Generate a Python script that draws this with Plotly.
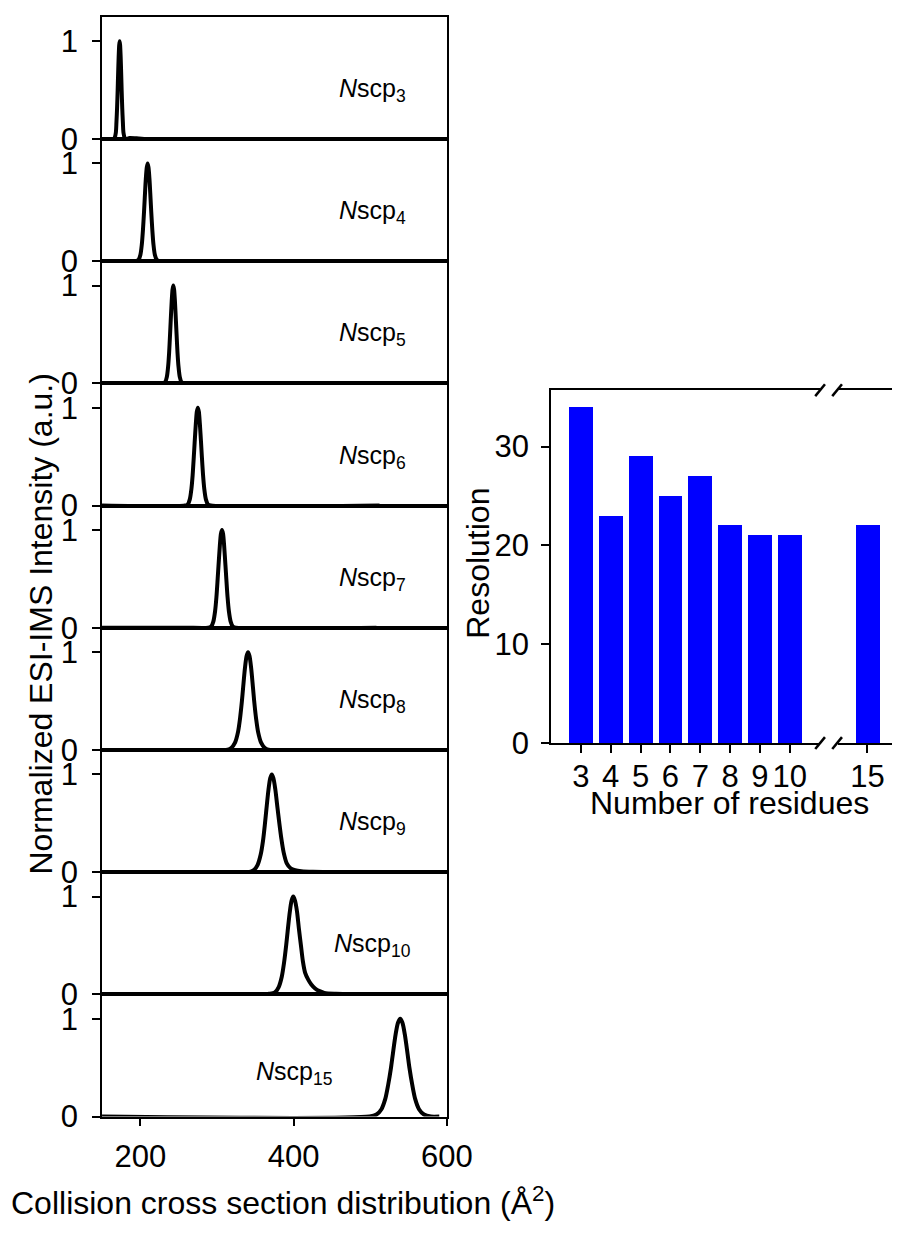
import plotly.graph_objects as go

# ---------------- data ----------------
labels = ["3", "4", "5", "6", "7", "8", "9", "10", "15"]

x_scp3 = [150, 164.7, 166.5, 168.0, 168.8, 169.6, 170.4, 170.9, 171.7, 172.4, 173.0, 173.6, 174.3, 175.1, 175.6, 176.4, 177.2, 178.0, 179.5, 181.3, 186, 195, 205, 515]
y_scp3 = [0, 0, 0.013, 0.063, 0.17, 0.31, 0.5, 0.64, 0.84, 0.96, 1.0, 0.96, 0.84, 0.64, 0.5, 0.31, 0.17, 0.063, 0.013, 0, 0.01, 0.006, 0, 0]

x_scp4 = [150, 194.3, 197.6, 200.0, 201.9, 203.3, 204.75, 205.7, 207.1, 208.4, 209.5, 210.6, 211.9, 213.3, 214.25, 215.7, 217.1, 219.0, 221.4, 224.7, 512]
y_scp4 = [0, 0, 0.013, 0.063, 0.17, 0.31, 0.5, 0.64, 0.84, 0.96, 1.0, 0.96, 0.84, 0.64, 0.5, 0.31, 0.17, 0.063, 0.013, 0, 0]

x_scp5 = [150, 229.4, 232.4, 234.5, 236.2, 237.5, 238.75, 239.6, 240.9, 242.0, 243.0, 244.0, 245.1, 246.4, 247.25, 248.5, 249.8, 251.5, 253.6, 256.6, 512]
y_scp5 = [0, 0, 0.013, 0.063, 0.17, 0.31, 0.5, 0.64, 0.84, 0.96, 1.0, 0.96, 0.84, 0.64, 0.5, 0.31, 0.17, 0.063, 0.013, 0, 0]

x_scp6 = [150, 258.2, 261.9, 264.5, 266.6, 268.2, 269.75, 270.8, 272.4, 273.7, 275.0, 276.3, 277.6, 279.2, 280.25, 281.8, 283.4, 285.5, 288.1, 291.8, 512]
y_scp6 = [0, 0, 0.013, 0.063, 0.17, 0.31, 0.5, 0.64, 0.84, 0.96, 1.0, 0.96, 0.84, 0.64, 0.5, 0.31, 0.17, 0.063, 0.013, 0, 0]

x_scp7 = [150, 250, 262, 288.4, 292.4, 295.2, 297.5, 299.2, 300.85, 302.0, 303.7, 305.1, 306.5, 307.9, 309.3, 311.0, 312.15, 313.8, 315.5, 317.8, 320.6, 324.6, 508]
y_scp7 = [0, 0, 0, 0, 0.013, 0.063, 0.17, 0.31, 0.5, 0.64, 0.84, 0.96, 1.0, 0.96, 0.84, 0.64, 0.5, 0.31, 0.17, 0.063, 0.013, 0, 0]

x_scp8 = [150, 312.0, 318.5, 323.5, 327.3, 330.0, 332.5, 334.1, 336.5, 338.6, 340.5, 342.4, 344.5, 346.9, 348.5, 351.0, 353.7, 357.5, 362.5, 369.0, 590]
y_scp8 = [0, 0, 0.02, 0.075, 0.18, 0.32, 0.5, 0.64, 0.84, 0.96, 1.0, 0.96, 0.84, 0.64, 0.5, 0.32, 0.18, 0.075, 0.02, 0, 0]

x_scp9 = [150, 341.0, 348.0, 353.0, 357.0, 360.0, 362.6, 364.4, 367.1, 369.4, 371.5, 373.6, 376.0, 379.0, 381.0, 384.0, 387.0, 391.0, 396.0, 402.0, 410.0, 425.0, 450.0, 590]
y_scp9 = [0, 0, 0.02, 0.075, 0.18, 0.32, 0.5, 0.64, 0.84, 0.96, 1.0, 0.96, 0.85, 0.65, 0.52, 0.34, 0.2, 0.09, 0.04, 0.02, 0.01, 0.004, 0.002, 0]

x_scp10 = [150, 355, 368, 375.5, 380.5, 384.5, 387.4, 390.2, 392.1, 394.9, 397.3, 399.5, 401.7, 404.3, 407.0, 409.5, 412.0, 415.0, 419.0, 423.0, 428.0, 433.0, 440.0, 455.0, 480.0, 590]
y_scp10 = [0, 0, 0.006, 0.02, 0.075, 0.18, 0.32, 0.5, 0.64, 0.84, 0.96, 1.0, 0.96, 0.85, 0.66, 0.5, 0.34, 0.22, 0.15, 0.1, 0.06, 0.035, 0.015, 0.006, 0.002, 0]

x_scp15 = [150, 499.0, 508.0, 514.5, 519.5, 523.2, 527.0, 529.4, 533.0, 536.1, 539.0, 541.9, 545.0, 548.6, 551.0, 554.8, 558.5, 563.5, 570.0, 579.0, 590]
y_scp15 = [0, 0, 0.02, 0.075, 0.18, 0.32, 0.5, 0.64, 0.84, 0.96, 1.0, 0.96, 0.84, 0.64, 0.5, 0.32, 0.18, 0.075, 0.02, 0, 0]

peaks_x = [x_scp3, x_scp4, x_scp5, x_scp6, x_scp7, x_scp8, x_scp9, x_scp10, x_scp15]
peaks_y = [y_scp3, y_scp4, y_scp5, y_scp6, y_scp7, y_scp8, y_scp9, y_scp10, y_scp15]

# label positions (data units of each panel)
label_x = [456, 456, 456, 456, 456, 456, 456, 450, 348]
label_y = [0.5, 0.5, 0.5, 0.5, 0.5, 0.5, 0.5, 0.5, 0.45]

residues_main = [3, 4, 5, 6, 7, 8, 9, 10]
resolution_main = [34, 23, 29, 25, 27, 22, 21, 21]
residues_break = [15]
resolution_break = [22]

# ---------------- layout helpers ----------------
W, H = 918, 1238
FONT = "Liberation Sans, Arial, sans-serif"
TICKF = 31
TITLEF = 32

def px_x(p):
    return p / W

def px_y(p):
    return 1 - p / H

fig = go.Figure()
layout = dict(
    width=W, height=H,
    margin=dict(l=0, r=0, t=0, b=0),
    paper_bgcolor="white", plot_bgcolor="white",
    showlegend=False,
    font=dict(family=FONT, color="black", size=TICKF),
)

left_x0, left_x1 = px_x(105), px_x(460)
panel_top0 = 17
panel_h = 124
annotations = []
shapes = []

for i in range(9):
    n = i + 1
    xa = "xaxis" if n == 1 else f"xaxis{n}"
    ya = "yaxis" if n == 1 else f"yaxis{n}"
    xr = "x" if n == 1 else f"x{n}"
    yr = "y" if n == 1 else f"y{n}"
    top = panel_top0 + i * panel_h
    bot = top + panel_h
    last = (i == 8)
    layout[xa] = dict(
        domain=[left_x0, left_x1], anchor=yr, range=[150, 600],
        showline=True, linecolor="black", linewidth=1.5, mirror=True,
        showgrid=False, zeroline=False,
        ticks="outside" if last else "", ticklen=8, tickwidth=1.5, tickcolor="black",
        tickvals=[200, 400, 600], showticklabels=last,
        tickfont=dict(size=TICKF, family=FONT, color="black"),
        ticklabelstandoff=4,
    )
    layout[ya] = dict(
        domain=[px_y(bot), px_y(top)], anchor=xr, range=[0, 1.25],
        showline=True, linecolor="black", linewidth=1.5, mirror=True,
        showgrid=False, zeroline=False,
        ticks="outside", ticklen=8, tickwidth=1.5, tickcolor="black",
        tickvals=[0, 1], ticktext=["0", "1"],
        tickfont=dict(size=TICKF, family=FONT, color="black"),
        ticklabelstandoff=8,
    )
    fig.add_trace(go.Scatter(
        x=peaks_x[i], y=peaks_y[i], mode="lines",
        line=dict(color="black", width=4, shape="spline", smoothing=0.8),
        xaxis=xr, yaxis=yr, hoverinfo="skip",
    ))
    annotations.append(dict(
        x=label_x[i], y=label_y[i], xref=xr, yref=yr,
        text=f"<i>N</i>scp<sub>{labels[i]}</sub>", showarrow=False,
        xanchor="left", yanchor="middle",
        font=dict(size=25, family=FONT, color="black"),
    ))

# bar chart (broken x axis)
bar_top, bar_bot = 396, 754
layout["xaxis10"] = dict(
    domain=[px_x(567), px_x(843.6)], anchor="y10", range=[2, 11],
    showline=True, linecolor="black", linewidth=1.5, mirror=True,
    showgrid=False, zeroline=False,
    ticks="outside", ticklen=8, tickwidth=1.5, tickcolor="black",
    tickvals=residues_main, tickfont=dict(size=TICKF, family=FONT, color="black"),
    ticklabelstandoff=-3,
)
layout["yaxis10"] = dict(
    domain=[px_y(bar_bot), px_y(bar_top)], anchor="x10", range=[0, 35.7],
    showline=True, linecolor="black", linewidth=1.5, mirror=False,
    showgrid=False, zeroline=False,
    ticks="outside", ticklen=8, tickwidth=1.5, tickcolor="black",
    tickvals=[0, 10, 20, 30], tickfont=dict(size=TICKF, family=FONT, color="black"),
    ticklabelstandoff=6,
)
layout["xaxis11"] = dict(
    domain=[px_x(862), 1.0], anchor="y11", range=[14, 14 + 56 / 30.73],
    showline=True, linecolor="black", linewidth=1.5, mirror=True,
    showgrid=False, zeroline=False,
    ticks="outside", ticklen=8, tickwidth=1.5, tickcolor="black",
    tickvals=residues_break, tickfont=dict(size=TICKF, family=FONT, color="black"),
    ticklabelstandoff=-3,
)
layout["yaxis11"] = dict(
    domain=[px_y(bar_bot), px_y(bar_top)], anchor="x11", range=[0, 35.7],
    showline=False, showgrid=False, zeroline=False, ticks="", showticklabels=False,
)

fig.add_trace(go.Bar(x=residues_main, y=resolution_main, width=0.8,
                     marker=dict(color="#0000FF", line=dict(width=0)),
                     xaxis="x10", yaxis="y10", hoverinfo="skip"))
fig.add_trace(go.Bar(x=residues_break, y=resolution_break, width=0.8,
                     marker=dict(color="#0000FF", line=dict(width=0)),
                     xaxis="x11", yaxis="y11", hoverinfo="skip"))

# break marks
for cx in (844, 861.5):
    for cy in (bar_top, bar_bot):
        shapes.append(dict(type="line", xref="paper", yref="paper",
                           x0=px_x(cx - 5), y0=px_y(cy + 6),
                           x1=px_x(cx + 5), y1=px_y(cy - 6),
                           line=dict(color="black", width=2.5)))

# axis titles
annotations += [
    dict(x=px_x(42), y=px_y(633), xref="paper", yref="paper", showarrow=False,
         text="Normalized ESI-IMS Intensity (a.u.)", textangle=-90,
         xanchor="center", yanchor="middle",
         font=dict(size=TITLEF, family=FONT, color="black")),
    dict(x=px_x(9), y=px_y(1219), xref="paper", yref="paper", showarrow=False,
         text="Collision cross section distribution (Å<sup>2</sup>)",
         xanchor="left", yanchor="middle",
         font=dict(size=TITLEF, family=FONT, color="black")),
    dict(x=px_x(492), y=px_y(572), xref="paper", yref="paper", showarrow=False,
         text="Resolution", textangle=-90, xanchor="center", yanchor="middle",
         font=dict(size=TITLEF, family=FONT, color="black")),
    dict(x=px_x(751), y=px_y(815), xref="paper", yref="paper", showarrow=False,
         text="Number of residues", xanchor="center", yanchor="middle",
         font=dict(size=TITLEF, family=FONT, color="black")),
]

layout["annotations"] = annotations
layout["shapes"] = shapes
layout["bargap"] = 0
fig.update_layout(**layout)
fig.write_html(
    "out.html",
    config={"displayModeBar": False},
    post_script=(
        "document.documentElement.style.margin='0';"
        "document.documentElement.style.overflow='hidden';"
        "document.body.style.margin='0';"
        "document.body.style.padding='0';"
        "document.body.style.overflow='hidden';"
    ),
)
